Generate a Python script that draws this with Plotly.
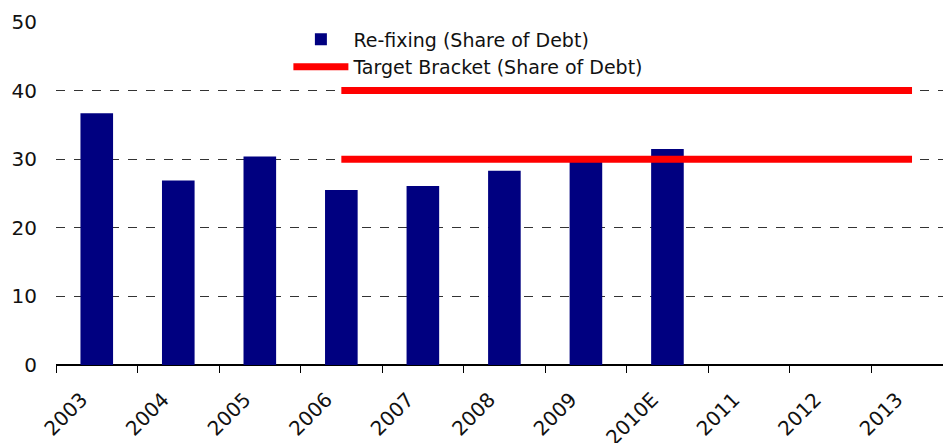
import plotly.graph_objects as go

years = ["2003", "2004", "2005", "2006", "2007", "2008", "2009", "2010E", "2011", "2012", "2013"]
refixing = [36.7, 26.9, 30.4, 25.5, 26.1, 28.3, 30.0, 31.5, None, None, None]
bracket_years = ["2006", "2007", "2008", "2009", "2010E", "2011", "2012", "2013"]
bracket_low = [30, 30, 30, 30, 30, 30, 30, 30]
bracket_high = [40, 40, 40, 40, 40, 40, 40, 40]
y_ticks = [0, 10, 20, 30, 40, 50]

fig = go.Figure()
fig.add_trace(go.Bar(x=years, y=refixing, name="Re-fixing (Share of Debt)",
                     marker=dict(color="#000080", line=dict(width=0)), width=0.4))
fig.add_trace(go.Scatter(x=bracket_years, y=bracket_high, mode="lines",
                         name="Target Bracket (Share of Debt)", legendgroup="tb",
                         line=dict(color="#ff0000", width=7)))
fig.add_trace(go.Scatter(x=bracket_years, y=bracket_low, mode="lines",
                         name="Target Bracket (Share of Debt)", legendgroup="tb", showlegend=False,
                         line=dict(color="#ff0000", width=7)))

fig.update_layout(
    width=943, height=443,
    margin=dict(l=56, r=0, t=22, b=78),
    plot_bgcolor="white", paper_bgcolor="white",
    font=dict(family="DejaVu Sans", size=20, color="#111111"),
    showlegend=True,
    legend=dict(x=0.262, y=1.005, xanchor="left", yanchor="top", bgcolor="rgba(0,0,0,0)",
                font=dict(size=19), tracegroupgap=0, itemwidth=55),
    xaxis=dict(type="category", range=[-0.5, 10.38], tickangle=-45, automargin=False,
               ticks="outside", tickson="boundaries", ticklen=7, tickcolor="#000",
               ticklabelstandoff=18, ticklabelshift=-15,
               showline=False, showgrid=False, zeroline=False),
    yaxis=dict(range=[0, 50], tickvals=y_ticks, showgrid=True, gridcolor="#333333",
               griddash="dash", gridwidth=1, zeroline=True, zerolinecolor="#000",
               zerolinewidth=1.5, showline=False, ticks="", ticklabelstandoff=18,
               automargin=False),
)
fig.write_html("out.html", config={"displayModeBar": False},
               post_script="document.body.style.margin='0';")
